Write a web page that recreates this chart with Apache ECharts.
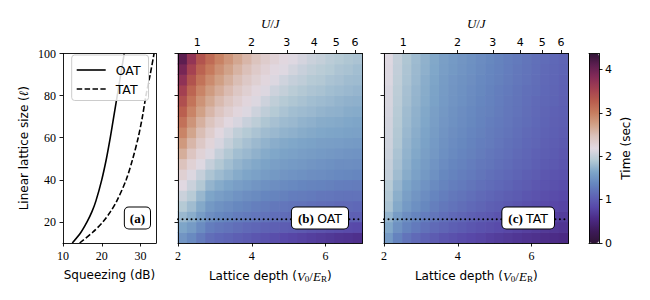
<!DOCTYPE html>
<html><head><meta charset="utf-8">
<script src="https://cdn.jsdelivr.net/npm/echarts@6/dist/echarts.min.js"></script>
<style>html,body{margin:0;padding:0;background:#fff}#c{width:650px;height:300px}</style>
</head><body><div id="c"></div>
<script>
// ---------- data ----------
const latticeSize = [10, 15, 20, 25, 30, 40, 50, 60, 70, 80, 90, 100];
const squeezingOAT = [12.4, 14.6, 16.2, 17.5, 18.5, 20.0, 21.2, 22.2, 23.1, 24.0, 24.9, 25.8];
const squeezingTAT = [14.3, 17.6, 20.3, 22.3, 23.9, 26.3, 28.0, 29.4, 30.5, 31.4, 32.5, 33.5];

const depthCenters = [2.125, 2.375, 2.625, 2.875, 3.125, 3.375, 3.625, 3.875, 4.125, 4.375,
                      4.625, 4.875, 5.125, 5.375, 5.625, 5.875, 6.125, 6.375, 6.625, 6.875];
const sizeCenters = [12.5, 17.5, 22.5, 27.5, 32.5, 37.5, 42.5, 47.5, 52.5, 57.5,
                     62.5, 67.5, 72.5, 77.5, 82.5, 87.5, 92.5, 97.5];

const timeOAT = [
 [1.50,1.40,1.27,1.16,1.11,1.07,1.03,0.99,0.95,0.91,0.87,0.83,0.80,0.77,0.74,0.71,0.68,0.65,0.63,0.60],
 [1.64,1.55,1.42,1.29,1.24,1.20,1.16,1.12,1.09,1.06,1.04,1.01,0.99,0.97,0.94,0.92,0.89,0.87,0.85,0.83],
 [1.78,1.70,1.56,1.44,1.38,1.34,1.29,1.26,1.23,1.20,1.17,1.15,1.13,1.11,1.10,1.08,1.07,1.06,1.05,1.04],
 [1.91,1.81,1.67,1.53,1.47,1.43,1.38,1.35,1.31,1.28,1.25,1.23,1.21,1.20,1.18,1.16,1.15,1.13,1.13,1.11],
 [2.04,1.93,1.77,1.64,1.58,1.53,1.48,1.44,1.41,1.37,1.35,1.32,1.29,1.28,1.26,1.24,1.23,1.21,1.20,1.20],
 [2.17,2.04,1.90,1.75,1.68,1.63,1.58,1.54,1.50,1.46,1.44,1.41,1.39,1.37,1.35,1.34,1.32,1.30,1.29,1.28],
 [2.30,2.15,2.01,1.87,1.80,1.74,1.68,1.64,1.60,1.56,1.53,1.50,1.48,1.46,1.44,1.43,1.41,1.39,1.38,1.37],
 [2.46,2.29,2.16,2.01,1.90,1.82,1.75,1.70,1.66,1.62,1.59,1.56,1.54,1.52,1.50,1.48,1.46,1.44,1.44,1.43],
 [2.63,2.43,2.27,2.15,2.01,1.90,1.82,1.78,1.73,1.68,1.65,1.62,1.60,1.58,1.56,1.54,1.52,1.51,1.49,1.48],
 [2.79,2.56,2.39,2.25,2.12,2.00,1.90,1.84,1.79,1.74,1.70,1.67,1.65,1.63,1.61,1.59,1.58,1.57,1.55,1.54],
 [2.95,2.70,2.50,2.34,2.21,2.09,1.98,1.91,1.86,1.81,1.78,1.74,1.72,1.69,1.67,1.65,1.64,1.63,1.61,1.60],
 [3.10,2.83,2.61,2.45,2.32,2.21,2.12,2.03,1.96,1.88,1.84,1.80,1.78,1.74,1.72,1.69,1.68,1.67,1.65,1.64],
 [3.25,2.95,2.73,2.56,2.43,2.32,2.23,2.15,2.06,1.97,1.91,1.86,1.82,1.80,1.78,1.75,1.73,1.72,1.69,1.68],
 [3.40,3.08,2.84,2.67,2.53,2.42,2.32,2.23,2.15,2.06,1.98,1.92,1.88,1.85,1.82,1.80,1.78,1.75,1.73,1.72],
 [3.55,3.20,2.95,2.78,2.64,2.52,2.41,2.31,2.22,2.15,2.06,2.00,1.94,1.90,1.87,1.85,1.82,1.80,1.78,1.76],
 [3.73,3.37,3.09,2.90,2.75,2.62,2.50,2.39,2.30,2.22,2.15,2.07,2.01,1.97,1.92,1.90,1.86,1.84,1.81,1.80],
 [3.92,3.53,3.22,3.03,2.86,2.72,2.59,2.48,2.37,2.28,2.21,2.16,2.09,2.03,1.98,1.94,1.91,1.87,1.85,1.82],
 [4.10,3.70,3.36,3.15,2.97,2.82,2.68,2.56,2.45,2.35,2.27,2.21,2.16,2.10,2.04,2.00,1.95,1.91,1.88,1.86]
];

const timeTAT = [
 [1.54,1.34,1.21,1.13,1.06,1.00,0.94,0.90,0.86,0.82,0.79,0.75,0.72,0.69,0.66,0.63,0.61,0.58,0.56,0.54],
 [1.66,1.47,1.35,1.26,1.19,1.13,1.08,1.03,0.99,0.95,0.91,0.88,0.85,0.81,0.78,0.75,0.72,0.69,0.67,0.65],
 [1.75,1.56,1.44,1.36,1.29,1.23,1.17,1.12,1.08,1.04,1.00,0.97,0.93,0.90,0.87,0.83,0.80,0.77,0.75,0.72],
 [1.85,1.67,1.54,1.45,1.38,1.31,1.25,1.20,1.16,1.12,1.08,1.04,1.01,0.97,0.94,0.90,0.87,0.84,0.81,0.79],
 [1.89,1.71,1.59,1.50,1.43,1.36,1.30,1.25,1.21,1.17,1.13,1.09,1.06,1.02,0.99,0.95,0.92,0.88,0.86,0.83],
 [1.93,1.76,1.64,1.55,1.48,1.41,1.35,1.30,1.26,1.22,1.18,1.14,1.11,1.07,1.03,1.00,0.96,0.93,0.90,0.87],
 [1.99,1.81,1.69,1.60,1.53,1.46,1.38,1.34,1.30,1.26,1.22,1.18,1.14,1.11,1.07,1.03,1.00,0.96,0.93,0.91],
 [2.01,1.84,1.72,1.63,1.56,1.49,1.42,1.37,1.33,1.29,1.25,1.22,1.18,1.14,1.10,1.07,1.03,0.99,0.97,0.94],
 [2.04,1.86,1.74,1.66,1.59,1.52,1.45,1.40,1.36,1.32,1.28,1.24,1.20,1.17,1.13,1.09,1.05,1.02,0.99,0.96],
 [2.06,1.89,1.76,1.68,1.61,1.54,1.47,1.42,1.38,1.34,1.30,1.27,1.23,1.19,1.15,1.11,1.08,1.04,1.01,0.98],
 [2.07,1.90,1.78,1.70,1.63,1.56,1.49,1.44,1.40,1.36,1.32,1.28,1.25,1.21,1.17,1.13,1.09,1.06,1.03,1.00],
 [2.08,1.92,1.80,1.72,1.65,1.58,1.51,1.46,1.42,1.38,1.34,1.30,1.26,1.23,1.19,1.15,1.11,1.07,1.04,1.02],
 [2.10,1.93,1.81,1.73,1.66,1.59,1.52,1.47,1.43,1.39,1.35,1.32,1.28,1.24,1.20,1.16,1.12,1.08,1.05,1.03],
 [2.11,1.95,1.83,1.75,1.68,1.61,1.54,1.49,1.45,1.41,1.37,1.33,1.29,1.25,1.21,1.17,1.13,1.10,1.07,1.04],
 [2.12,1.96,1.84,1.76,1.69,1.62,1.55,1.50,1.46,1.42,1.38,1.34,1.30,1.26,1.22,1.18,1.15,1.11,1.08,1.05],
 [2.14,1.98,1.86,1.78,1.70,1.64,1.56,1.51,1.47,1.44,1.39,1.36,1.32,1.28,1.24,1.20,1.16,1.12,1.09,1.06],
 [2.15,1.99,1.87,1.79,1.72,1.65,1.58,1.53,1.49,1.45,1.41,1.37,1.33,1.29,1.25,1.21,1.17,1.13,1.10,1.07],
 [2.16,2.00,1.88,1.80,1.73,1.66,1.59,1.54,1.50,1.46,1.42,1.38,1.34,1.30,1.26,1.22,1.18,1.14,1.11,1.08]
];

const squeezeTicks = [10, 20, 30];
const sizeTicks = [20, 40, 60, 80, 100];
const depthTicks = [2, 4, 6];
const timeTicks = [0, 1, 2, 3, 4];
const ujTickLabels = [1, 2, 3, 4, 5, 6];
const ujTickDepths = [2.52, 3.99, 4.95, 5.69, 6.29, 6.80];
const referenceSize = [21.3];
const depthRange = [2, 7];
const sizeRange = [10, 100];
const squeezeRange = [10, 34];
const timeRange = [0, 4.37];

// twilight_shifted colour stops (evenly spaced)
const cmapColors = ['#2f1436','#3d1a59','#4b2a85','#5848a8','#5f66b6','#6686bf','#7ea5c8','#b5cad5',
                    '#e2d9e2','#dcc3bd','#d1a187','#c77d5f','#b85c4d','#a34051','#852b58','#5e1e50','#2f1436'];

// ---------- helpers ----------
const SANS = '"DejaVu Sans"';
const SERIF = '"Liberation Serif"';
const BLACK = '#000';
const lineW = 0.9;

function cells(mat) {
  const out = [];
  for (let i = 0; i < sizeCenters.length; i++)
    for (let j = 0; j < depthCenters.length; j++)
      out.push([depthCenters[j], sizeCenters[i], mat[i][j]]);
  return out;
}
const halfW = (depthCenters[1] - depthCenters[0]) / 2;
const halfH = (sizeCenters[1] - sizeCenters[0]) / 2;
function renderCell(params, api) {
  const x = api.value(0), y = api.value(1);
  const p0 = api.coord([x - halfW, y + halfH]);
  const p1 = api.coord([x + halfW, y - halfH]);
  return { type: 'rect',
    shape: { x: p0[0] - 0.35, y: p0[1] - 0.35, width: p1[0] - p0[0] + 0.7, height: p1[1] - p0[1] + 0.7 },
    style: { fill: api.visual('color'), stroke: null } };
}

const gridTop = 53.5, gridH = 189.5;
const grids = [
  { left: 63, top: gridTop, width: 93, height: gridH },
  { left: 178, top: gridTop, width: 184.5, height: gridH },
  { left: 384, top: gridTop, width: 184.5, height: gridH },
  { left: 589, top: gridTop, width: 10, height: gridH }
];

function frameAxis(gridIndex, position, range) {
  return { type: 'value', gridIndex, position, min: range[0], max: range[1], z: 10,
    axisLine: { show: true, onZero: false, lineStyle: { color: BLACK, width: lineW } },
    axisTick: { show: false }, axisLabel: { show: false }, splitLine: { show: false } };
}
function tickAxis(gridIndex, position, range, ticks, showLabels, font, extra) {
  const a = { type: 'value', gridIndex, position, min: range[0], max: range[1], z: 10,
    axisLine: { show: true, onZero: false, lineStyle: { color: BLACK, width: lineW } },
    axisTick: { show: true, customValues: ticks, length: 3.5, inside: false, lineStyle: { color: BLACK, width: lineW } },
    axisLabel: { show: showLabels, customValues: ticks, margin: 7, color: BLACK, fontFamily: font || SERIF, fontSize: 12 },
    splitLine: { show: false } };
  return Object.assign(a, extra || {});
}

const depthName = 'Lattice depth ({m|V}{s|0}{r|/}{m|E}{s|R}{t|)}';
const depthNameStyle = { fontFamily: SANS, fontSize: 12, color: BLACK, lineHeight: 14,
  rich: { m: { fontFamily: SERIF, fontStyle: 'italic', fontSize: 13, lineHeight: 14 },
          r: { fontFamily: SERIF, fontSize: 13, lineHeight: 14 },
          t: { fontFamily: SANS, fontSize: 12, lineHeight: 14 },
          s: { fontFamily: SERIF, fontSize: 9, lineHeight: 9, verticalAlign: 'bottom' } } };
const ujName = '{m|U}{r|/}{m|J}';
const ujNameStyle = { color: BLACK, rich: { m: { fontFamily: SERIF, fontStyle: 'italic', fontSize: 13 }, r: { fontFamily: SERIF, fontSize: 13 } } };
function ujFmt(v) {
  let best = 0;
  for (let k = 0; k < ujTickDepths.length; k++) if (Math.abs(ujTickDepths[k] - v) < Math.abs(ujTickDepths[best] - v)) best = k;
  return String(ujTickLabels[best]);
}

const xAxes = [
  tickAxis(0, 'bottom', squeezeRange, squeezeTicks, true, SERIF,
    { name: 'Squeezing (dB)', nameLocation: 'middle', nameGap: 26, nameTextStyle: { fontFamily: SANS, fontSize: 12, color: BLACK } }),
  frameAxis(0, 'top', squeezeRange),
  tickAxis(1, 'bottom', depthRange, depthTicks, true, SERIF,
    { name: depthName, nameLocation: 'middle', nameGap: 26, nameTextStyle: depthNameStyle }),
  tickAxis(1, 'top', depthRange, ujTickDepths, true, SANS,
    { name: ujName, nameLocation: 'middle', nameGap: 24, nameTextStyle: ujNameStyle }),
  tickAxis(2, 'bottom', depthRange, depthTicks, true, SERIF,
    { name: depthName, nameLocation: 'middle', nameGap: 26, nameTextStyle: depthNameStyle }),
  tickAxis(2, 'top', depthRange, ujTickDepths, true, SANS,
    { name: ujName, nameLocation: 'middle', nameGap: 24, nameTextStyle: ujNameStyle }),
  frameAxis(3, 'bottom', [0, 1]),
  frameAxis(3, 'top', [0, 1])
];
[3, 5].forEach(i => { xAxes[i].axisLabel.formatter = ujFmt; xAxes[i].axisLabel.fontSize = 11; xAxes[i].axisLabel.margin = 6; });

const yAxes = [
  tickAxis(0, 'left', sizeRange, sizeTicks, true, SERIF,
    { name: 'Linear lattice size ({l|ℓ})', nameLocation: 'middle', nameGap: 33, nameRotate: 90,
      nameTextStyle: { fontFamily: SANS, fontSize: 12, color: BLACK, rich: { l: { fontFamily: SERIF, fontStyle: 'italic', fontSize: 13 } } } }),
  frameAxis(0, 'right', sizeRange),
  tickAxis(1, 'left', sizeRange, sizeTicks, false),
  frameAxis(1, 'right', sizeRange),
  tickAxis(2, 'left', sizeRange, sizeTicks, false),
  frameAxis(2, 'right', sizeRange),
  tickAxis(3, 'right', timeRange, timeTicks, true, SANS,
    { name: 'Time (sec)', nameLocation: 'middle', nameGap: 21, nameRotate: 90,
      nameTextStyle: { fontFamily: SANS, fontSize: 12, color: BLACK } }),
  frameAxis(3, 'left', timeRange)
];
yAxes[6].axisLabel.fontSize = 11;
yAxes[6].axisLabel.margin = 6;

const boxRich = { b: { fontFamily: SERIF, fontWeight: 'bold', fontSize: 13, lineHeight: 15 },
                  s: { fontFamily: SANS, fontSize: 12.5, lineHeight: 15 } };
function box(x, y, text, pad) {
  return { type: 'text', x, y, z: 100,
    style: { text, rich: boxRich, fill: BLACK, align: 'right', verticalAlign: 'middle',
      backgroundColor: '#fff', borderColor: BLACK, borderWidth: 1, borderRadius: 4, padding: pad } };
}

const solidIcon = 'path://M0,0H29V1.6H0Z';
const dashIcon = 'path://M0,0H5.5V1.6H0Z M7.9,0H13.4V1.6H7.9Z M15.8,0H21.3V1.6H15.8Z M23.7,0H29V1.6H23.7Z';

const option = {
  animation: false,
  backgroundColor: '#fff',
  grid: grids,
  xAxis: xAxes,
  yAxis: yAxes,
  legend: {
    data: [{ name: 'OAT', icon: solidIcon }, { name: 'TAT', icon: dashIcon }],
    orient: 'vertical', left: 71.7, top: 55,
    itemWidth: 29, itemHeight: 14, itemGap: 6, padding: [8.5, 8, 5, 5],
    backgroundColor: 'rgba(255,255,255,0.85)', borderColor: '#cccccc', borderWidth: 1, borderRadius: 3,
    textStyle: { fontFamily: SANS, fontSize: 12.5, color: BLACK, padding: [0, 0, 0, 5] },
    selectedMode: false
  },
  visualMap: {
    type: 'continuous', min: timeRange[0], max: timeRange[1], dimension: 2, seriesIndex: [2, 3],
    inRange: { color: cmapColors }, calculable: false, hoverLink: false,
    left: 589, top: gridTop, itemWidth: 10, itemHeight: gridH, padding: 0, orient: 'vertical'
  },
  series: [
    { name: 'OAT', type: 'line', xAxisIndex: 0, yAxisIndex: 0, smooth: 0.3, symbol: 'none',
      lineStyle: { color: BLACK, width: 1.6, type: 'solid' }, itemStyle: { color: BLACK },
      data: latticeSize.map((l, i) => [squeezingOAT[i], l]) },
    { name: 'TAT', type: 'line', xAxisIndex: 0, yAxisIndex: 0, smooth: 0.3, symbol: 'none',
      lineStyle: { color: BLACK, width: 1.6, type: [5.5, 2.4] }, itemStyle: { color: BLACK },
      data: latticeSize.map((l, i) => [squeezingTAT[i], l]) },
    { type: 'custom', xAxisIndex: 2, yAxisIndex: 2, renderItem: renderCell, data: cells(timeOAT), silent: true },
    { type: 'custom', xAxisIndex: 4, yAxisIndex: 4, renderItem: renderCell, data: cells(timeTAT), silent: true },
    { type: 'line', xAxisIndex: 2, yAxisIndex: 2, symbol: 'none', z: 5, silent: true,
      lineStyle: { color: BLACK, width: 2, type: [0.01, 4.5], cap: 'round' },
      data: depthRange.map(d => [d, referenceSize[0]]) },
    { type: 'line', xAxisIndex: 4, yAxisIndex: 4, symbol: 'none', z: 5, silent: true,
      lineStyle: { color: BLACK, width: 2, type: [0.01, 4.5], cap: 'round' },
      data: depthRange.map(d => [d, referenceSize[0]]) }
  ],
  graphic: [
    box(150, 218, '{b|(a)}', [3, 5, 3, 5]),
    box(348, 218, '{b|(b)} {s|OAT}', [3, 6, 3, 6]),
    box(554, 218, '{b|(c)} {s|TAT}', [3, 6, 3, 6])
  ]
};

const chart = echarts.init(document.getElementById('c'), null, { renderer: 'svg', width: 650, height: 300 });
chart.setOption(option);
</script>
</body></html>
